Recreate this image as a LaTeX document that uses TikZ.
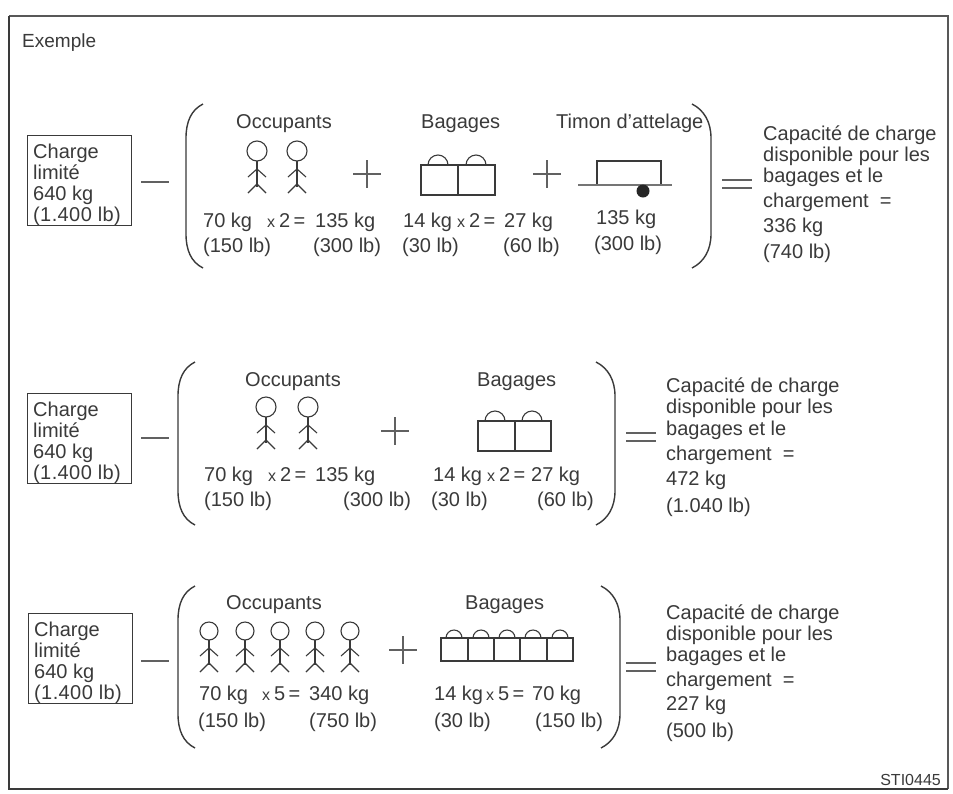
\documentclass[tikz,border=0pt]{standalone}
\usepackage{fontspec}
\setmainfont{Liberation Sans}
\newfontfamily\spacedfont[LetterSpace=2]{Liberation Sans}
\definecolor{ink}{HTML}{3A3A3A}
\tikzset{
  txt/.style={anchor=base west,inner sep=0pt,text=ink,font=\fontsize{20}{22}\selectfont},
  lab/.style={anchor=base west,inner sep=0pt,text=ink,font=\fontsize{20}{22}\selectfont},
  ln/.style={draw=ink,line width=1.1pt},
  sym/.style={draw=ink!80,line width=1.3pt},
  brk/.style={draw=ink,line width=1.4pt},
  person/.pic={
    \draw[ln] (0,0) circle (10);
    \draw[ln] (0,10) -- (0,36);
    \draw[ln] (-9,26) -- (0,18) -- (9,26);
    \draw[ln] (-9,42) -- (0,33) -- (9,42);
  },
  personsm/.pic={
    \draw[ln] (0,0) circle (9);
    \draw[ln] (0,9) -- (0,34);
    \draw[ln] (-9,25) -- (0,17) -- (9,25);
    \draw[ln] (-9,41) -- (0,32) -- (9,41);
  },
  handle/.pic={\draw[ln] (-10,0) arc[start angle=180,end angle=360,radius=10];},
  handlesm/.pic={\draw[ln] (-8,0) arc[start angle=180,end angle=360,radius=8];},
}
\newcommand{\minussign}[2]{\draw[sym] (#1-14,#2) -- (#1+14,#2);}
\newcommand{\plussign}[2]{\draw[sym] (#1-14,#2) -- (#1+14,#2) (#1,#2-14) -- (#1,#2+14);}
\newcommand{\equalsign}[2]{\draw[sym] (#1-15,#2-4) -- (#1+15,#2-4) (#1-15,#2+4) -- (#1+15,#2+4);}
\newcommand{\lparen}[3]{\draw[brk] (#1+17,#2) .. controls (#1+5,#2+6) and (#1,#2+18) .. (#1,#2+34) -- (#1,#3-34) .. controls (#1,#3-18) and (#1+5,#3-6) .. (#1+17,#3);}
\newcommand{\rparen}[3]{\draw[brk] (#1-19,#2) .. controls (#1-7,#2+6) and (#1,#2+18) .. (#1,#2+34) -- (#1,#3-34) .. controls (#1,#3-18) and (#1-7,#3-6) .. (#1-19,#3);}
\newcommand{\mult}[1]{{\fontsize{16}{16}\selectfont x}\hspace{4pt}#1\,=}
\newcommand{\chargebox}[3]{%
  \node[draw=ink,line width=1.1pt,minimum width=104pt,minimum height=90pt,inner sep=0pt,anchor=north west] (#3) at (#1,#2) {};
  \node[txt] at (#1+6,#2+23) {Charge};
  \node[txt] at (#1+6,#2+44) {limité};
  \node[txt] at (#1+6,#2+65) {640 kg};
  \node[txt] at (#1+6,#2+86) {\spacedfont (1.400 lb)};
}
\newcommand{\capacity}[9]{%
  \node[lab] at (#1,#2) {Capacité de charge};
  \node[lab] at (#1,#3) {disponible pour les};
  \node[lab] at (#1,#4) {bagages et le};
  \node[lab] at (#1,#5) {chargement\ \ =};
  \node[lab] at (#1,#6) {#8};
  \node[lab] at (#1,#7) {#9};
}
\begin{document}
\begin{tikzpicture}[x=1pt,y=-1pt]
\useasboundingbox (0,0) rectangle (953,793);
\fill[white] (0,0) rectangle (953,793);
\draw[draw=ink!85,line width=1.6pt] (9,16) -- (948,16) -- (948,789);
\draw[draw=ink,line width=2pt] (9,16) -- (9,789) -- (948,789);
\node[anchor=base west,inner sep=0pt,text=ink,font=\fontsize{19}{21}\selectfont] (ex) at (22,47) {Exemple};
\node[anchor=base east,inner sep=0pt,text=ink,font=\fontsize{16}{18}\selectfont] (code) at (941,785) {STI0445};

% Row 1
\chargebox{27}{135}{boxa}
\minussign{155}{182}
\lparen{186}{104}{268}
\node[lab] (a1) at (236,128) {Occupants};
\pic at (257,151) {person};
\pic at (297,151) {person};
\plussign{367}{174}
\node[lab] (a2) at (421,128) {Bagages};
\draw[ln] (421,165) rectangle (495,195) (458,165) -- (458,195);
\pic at (438,165) {handle};
\pic at (476,165) {handle};
\plussign{547}{174}
\node[lab] (a3) at (556,128) {Timon d'attelage};
\draw[ln] (597,185) -- (597,161) -- (661,161) -- (661,185);
\draw[draw=ink!70,line width=1.2pt] (578,185) -- (672,185);
\fill[black!85] (643,191) circle (6.5);
\node[txt] at (203,227) {70 kg};
\node[txt] at (267,227) {\mult{2}};
\node[txt] at (315,227) {135 kg};
\node[txt] at (203,252) {(150 lb)};
\node[txt] at (313,252) {(300 lb)};
\node[txt] at (403,227) {14 kg};
\node[txt] at (457,227) {\mult{2}};
\node[txt] at (504,227) {27 kg};
\node[txt] at (402,252) {(30 lb)};
\node[txt] at (503,252) {(60 lb)};
\node[txt] at (596,224) {135 kg};
\node[txt] at (594,250) {(300 lb)};
\rparen{711}{104}{268}
\equalsign{737}{184}
\capacity{763}{140}{161}{182}{207}{232}{258}{336 kg}{(740 lb)}

% Row 2
\chargebox{27}{393}{boxb}
\minussign{155}{438}
\lparen{178}{362}{525}
\node[lab] (b1) at (245,386) {Occupants};
\pic at (266,407) {person};
\pic at (308,407) {person};
\plussign{395}{431}
\node[lab] (b2) at (477,386) {Bagages};
\draw[ln] (478,421) rectangle (551,451) (515,421) -- (515,451);
\pic at (495,421) {handle};
\pic at (532,421) {handle};
\node[txt] at (204,481) {70 kg};
\node[txt] at (268,481) {\mult{2}};
\node[txt] at (315,481) {135 kg};
\node[txt] at (204,506) {(150 lb)};
\node[txt] at (343,506) {(300 lb)};
\node[txt] at (433,481) {14 kg};
\node[txt] at (487,481) {\mult{2}};
\node[txt] at (531,481) {27 kg};
\node[txt] at (431,506) {(30 lb)};
\node[txt] at (537,506) {(60 lb)};
\rparen{615}{362}{525}
\equalsign{641}{437}
\capacity{666}{392}{413}{435}{460}{485}{512}{472 kg}{(1.040 lb)}

% Row 3
\chargebox{28}{613}{boxc}
\minussign{155}{661}
\lparen{178}{586}{748}
\node[lab] (c1) at (226,609) {Occupants};
\pic at (209,631) {personsm};
\pic at (245,631) {personsm};
\pic at (280,631) {personsm};
\pic at (315,631) {personsm};
\pic at (350,631) {personsm};
\plussign{403}{650}
\node[lab] (c2) at (465,609) {Bagages};
\draw[ln] (441,638) rectangle (573,661) (468,638) -- (468,661) (494,638) -- (494,661) (520,638) -- (520,661) (547,638) -- (547,661);
\pic at (454,638) {handlesm};
\pic at (481,638) {handlesm};
\pic at (507,638) {handlesm};
\pic at (533,638) {handlesm};
\pic at (560,638) {handlesm};
\node[txt] at (199,700) {70 kg};
\node[txt] at (262,700) {\mult{5}};
\node[txt] at (309,700) {340 kg};
\node[txt] at (198,727) {(150 lb)};
\node[txt] at (309,727) {(750 lb)};
\node[txt] at (434,700) {14 kg};
\node[txt] at (486,700) {\mult{5}};
\node[txt] at (532,700) {70 kg};
\node[txt] at (434,727) {(30 lb)};
\node[txt] at (535,727) {(150 lb)};
\rparen{620}{586}{748}
\equalsign{641}{667}
\capacity{666}{619}{640}{661}{686}{710}{737}{227 kg}{(500 lb)}
\end{tikzpicture}
\end{document}
